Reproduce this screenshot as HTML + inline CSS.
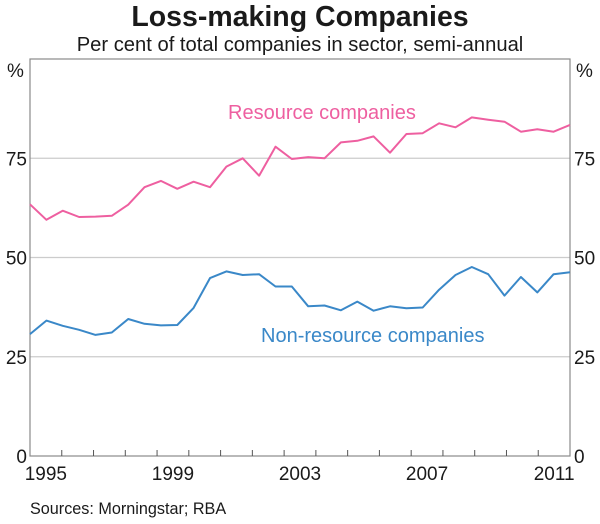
<!DOCTYPE html>
<html><head><meta charset="utf-8"><style>
body{margin:0;background:#fff;}
svg text{font-family:"Liberation Sans",Arial,sans-serif;}
</style></head><body>
<svg id="chart" width="600" height="519" viewBox="0 0 600 519" xmlns="http://www.w3.org/2000/svg">
<text x="300" y="26" text-anchor="middle" font-size="28.5" font-weight="bold" fill="#1a1a1a">Loss-making Companies</text>
<text x="300" y="51" text-anchor="middle" font-size="20.2" fill="#1a1a1a">Per cent of total companies in sector, semi-annual</text>
<text x="7" y="77" font-size="19" fill="#1a1a1a">%</text>
<text x="576" y="77" font-size="19" fill="#1a1a1a">%</text>
<g id="grid"></g>
<g id="axes"></g>
<g id="series"></g>
<text x="228" y="119" font-size="20" fill="#ee5fa0">Resource companies</text>
<text x="261" y="342" font-size="20" fill="#3a88c8">Non-resource companies</text>
<text x="30" y="514" font-size="16.2" fill="#1a1a1a">Sources: Morningstar; RBA</text>
</svg>
<script>
const yTicks = [0, 25, 50, 75];
const xLabels = ["1995", "1999", "2003", "2007", "2011"];
const xLabelYears = [1995, 1999, 2003, 2007, 2011];
const resource = [63.4,59.5,61.8,60.2,60.3,60.5,63.3,67.7,69.3,67.3,69.1,67.7,72.9,75.0,70.6,77.9,74.8,75.3,75.0,79.0,79.4,80.5,76.4,81.1,81.3,83.8,82.8,85.3,84.7,84.2,81.7,82.3,81.7,83.4];
const nonResource = [30.7,34.1,32.8,31.8,30.5,31.1,34.5,33.3,32.9,33.0,37.3,44.8,46.5,45.6,45.8,42.7,42.7,37.7,37.9,36.7,38.9,36.6,37.7,37.2,37.4,41.9,45.6,47.6,45.8,40.4,45.1,41.2,45.8,46.3];

const L=30,R=570,T=59,B=456;
const NS="http://www.w3.org/2000/svg";
function y(v){return B-(v/100)*(B-T);}
function xYear(t){return L+(t-1995)*(R-L)/17;}
function xIdx(i,n){return L+i*(R-L)/(n-1);}
function mk(tag,attrs,parent){const e=document.createElementNS(NS,tag);for(const k in attrs)e.setAttribute(k,attrs[k]);parent.appendChild(e);return e;}
const grid=document.getElementById('grid'),axes=document.getElementById('axes'),series=document.getElementById('series');
yTicks.forEach(v=>{
  if(v>0){const g=mk('line',{x1:L,x2:R,y1:y(v),y2:y(v),stroke:'#cccccc','stroke-width':1.2},grid);
  
  }
  const tl=mk('text',{x:L-3,y:y(v)+7,'text-anchor':'end','font-size':19,fill:'#1a1a1a'},axes);tl.textContent=v;
  
  
  const tr=mk('text',{x:R+4,y:y(v)+7,'font-size':19,fill:'#1a1a1a'},axes);tr.textContent=v;
  
  
});
const frame=mk('rect',{x:L,y:T,width:R-L,height:B-T,fill:'none',stroke:'#8a8a8a','stroke-width':1.2},axes);


for(let yr=1996;yr<=2011;yr++){
  const t=mk('line',{x1:xYear(yr),x2:xYear(yr),y1:B,y2:B-6,stroke:'#555','stroke-width':1},axes);
  
  
}
xLabels.forEach((lab,i)=>{
  const t=mk('text',{x:xYear(xLabelYears[i]+0.5),y:B+24,'text-anchor':'middle','font-size':19,fill:'#1a1a1a'},axes);t.textContent=lab;
  
  
});
function line(data,color,name){
  const d=data.map((v,i)=>(i?'L':'M')+xIdx(i,data.length).toFixed(1)+','+y(v).toFixed(1)).join('');
  const p=mk('path',{d:d,fill:'none',stroke:color,'stroke-width':2,'stroke-linejoin':'round'},series);
  
  
}
line(resource,'#ee5fa0','resource-companies-line');
line(nonResource,'#3a88c8','non-resource-companies-line');
</script>
</body></html>
